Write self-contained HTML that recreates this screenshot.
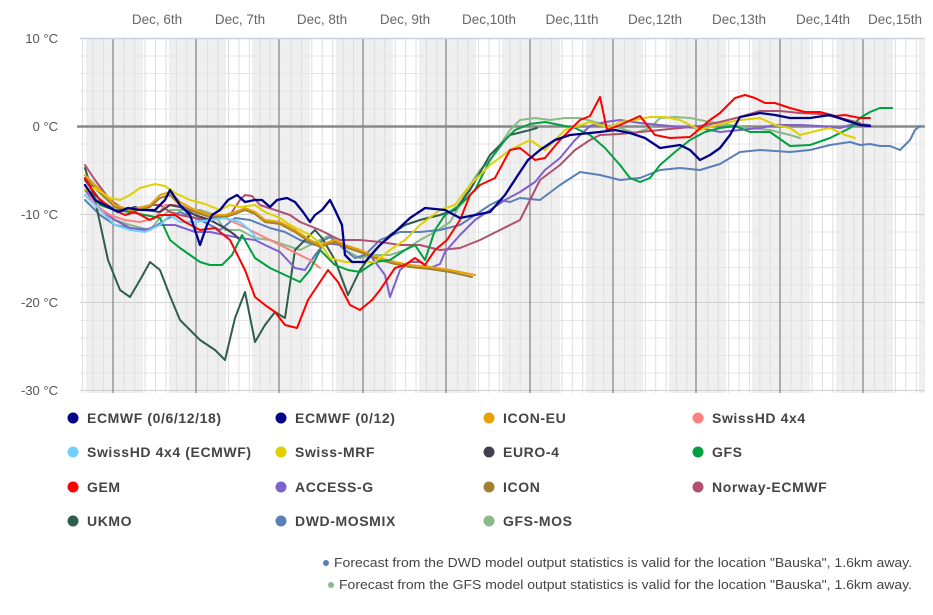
<!DOCTYPE html>
<html><head><meta charset="utf-8"><style>
body{margin:0;background:#fff;font-family:"Liberation Sans","DejaVu Sans",sans-serif;}
svg text{font-family:"Liberation Sans","DejaVu Sans",sans-serif;}
</style></head><body>
<svg width="933" height="610" viewBox="0 0 933 610" xmlns="http://www.w3.org/2000/svg">
<rect x="80" y="38" width="845" height="355" fill="#efefef"/>
<g fill="#fff">
<rect x="60" y="38" width="26" height="355"/>
<rect x="143" y="38" width="26" height="355"/>
<rect x="226" y="38" width="26" height="355"/>
<rect x="310" y="38" width="26" height="355"/>
<rect x="393" y="38" width="26" height="355"/>
<rect x="476" y="38" width="26" height="355"/>
<rect x="560" y="38" width="26" height="355"/>
<rect x="643" y="38" width="26" height="355"/>
<rect x="726" y="38" width="26" height="355"/>
<rect x="810" y="38" width="26" height="355"/>
<rect x="893" y="38" width="26" height="355"/>
</g>
<rect x="0" y="38" width="80" height="360" fill="#fff"/>
<g stroke="#e6e6e6" stroke-width="1">
<line x1="80" x2="925" y1="56" y2="56"/><line x1="80" x2="925" y1="73.5" y2="73.5"/><line x1="80" x2="925" y1="91" y2="91"/><line x1="80" x2="925" y1="109" y2="109"/>
<line x1="80" x2="925" y1="144" y2="144"/><line x1="80" x2="925" y1="162" y2="162"/><line x1="80" x2="925" y1="179.5" y2="179.5"/><line x1="80" x2="925" y1="197" y2="197"/>
<line x1="80" x2="925" y1="232" y2="232"/><line x1="80" x2="925" y1="250" y2="250"/><line x1="80" x2="925" y1="267.5" y2="267.5"/><line x1="80" x2="925" y1="285" y2="285"/>
<line x1="80" x2="925" y1="320.5" y2="320.5"/><line x1="80" x2="925" y1="338" y2="338"/><line x1="80" x2="925" y1="355.5" y2="355.5"/><line x1="80" x2="925" y1="373" y2="373"/>
</g>
<g stroke="#cfcfcf" stroke-width="1">
<line x1="80" x2="925" y1="214.5" y2="214.5"/><line x1="80" x2="925" y1="302.5" y2="302.5"/><line x1="80" x2="925" y1="390.5" y2="390.5"/>
</g>
<g stroke="#dedede" stroke-width="1" id="vg"></g>
<g stroke="#888" stroke-width="1.3">
<line x1="113" x2="113" y1="38" y2="393"/><line x1="196" x2="196" y1="38" y2="393"/><line x1="279" x2="279" y1="38" y2="393"/><line x1="363" x2="363" y1="38" y2="393"/><line x1="446" x2="446" y1="38" y2="393"/><line x1="530" x2="530" y1="38" y2="393"/><line x1="613" x2="613" y1="38" y2="393"/><line x1="696" x2="696" y1="38" y2="393"/><line x1="780" x2="780" y1="38" y2="393"/><line x1="863" x2="863" y1="38" y2="393"/>
</g>
<line x1="80" x2="925" y1="38.5" y2="38.5" stroke="#ccd0e0" stroke-width="1.5"/>
<line x1="77" x2="925" y1="126.5" y2="126.5" stroke="#888" stroke-width="2.5"/>
<g font-size="13" fill="#555" text-anchor="end">
<text x="58" y="43">10 °C</text><text x="58" y="131">0 °C</text><text x="58" y="219">-10 °C</text><text x="58" y="307">-20 °C</text><text x="58" y="395">-30 °C</text>
</g>
<g font-size="13.5" fill="#666" text-anchor="middle">
<text x="157" y="24">Dec, 6th</text><text x="240" y="24">Dec, 7th</text><text x="322" y="24">Dec, 8th</text><text x="405" y="24">Dec, 9th</text><text x="489" y="24">Dec,10th</text><text x="572" y="24">Dec,11th</text><text x="655" y="24">Dec,12th</text><text x="739" y="24">Dec,13th</text><text x="823" y="24">Dec,14th</text><text x="895" y="24">Dec,15th</text>
</g>
<g fill="none" stroke-width="2" stroke-linejoin="round" stroke-linecap="round">
<polyline stroke="#88bb88" points="85,195 100,210 115,220 130,225 150,230 160,218 170,210 185,210 200,210 215,215 225,230 240,230 255,238 270,240 285,245 300,250 310,245 320,240 330,235 345,250 360,258 375,255 390,255 405,250 420,240 435,232 450,222 460,205 470,185 480,170 490,160 500,145 510,130 520,120 535,118 550,120 565,118 580,118 595,122 605,125 620,128 635,133 650,128 660,118 675,117 690,118 710,122 730,125 750,128 770,130 790,135 800,138"/>
<polyline stroke="#5b7fb8" points="85,200 100,215 115,225 130,228 150,230 165,220 180,212 200,220 220,230 235,218 250,220 270,228 285,232 300,240 315,245 330,237 345,250 355,258 365,255 380,240 400,232 420,232 440,230 460,225 475,215 490,205 500,200 510,202 520,198 540,200 560,185 580,172 600,175 620,180 640,178 660,170 680,168 700,170 720,164 740,152 760,150 790,152 810,150 830,145 850,142 860,145 870,144 880,146 890,146 900,150 910,140 915,130 920,126"/>
<polyline stroke="#2f5f4a" points="85,168 95,200 108,260 120,290 130,297 140,280 150,262 160,270 170,296 180,320 190,330 200,340 215,350 225,360 235,318 245,292 255,342 265,325 275,312 285,318 295,250 305,240 315,230 322,238 335,260 348,295 360,270 375,250 390,235 405,225 420,220 440,215 455,210 470,190 490,155 510,135 530,130 537,128"/>
<polyline stroke="#b05070" points="85,165 95,180 110,200 125,210 140,210 150,205 160,205 170,212 180,215 195,218 210,220 220,215 230,215 240,200 245,195 252,196 260,205 275,210 290,215 300,222 320,230 340,240 360,240 380,242 400,245 420,245 440,250 460,248 480,240 500,230 520,220 530,200 540,180 560,165 575,150 590,140 600,135 620,134 640,132 660,130 680,128 700,126 720,122 740,117 760,111 780,111 800,113 820,114 840,118 860,123"/>
<polyline stroke="#8060d0" points="85,190 100,210 115,220 130,228 145,230 160,225 175,225 195,232 210,232 225,235 240,238 255,240 265,245 280,252 295,268 305,270 315,255 325,243 340,245 355,250 370,255 385,275 390,297 400,270 410,262 420,262 430,268 440,264 445,252 460,235 475,220 490,210 505,200 520,192 535,182 545,170 560,158 575,140 590,126 605,122 620,120 640,123 660,125 680,127 700,128 720,132 740,130 760,128 775,125 800,125 820,126 840,128 850,125 860,124 870,125"/>
<polyline stroke="#ff8080" points="85,185 95,205 110,215 125,220 140,222 155,218 165,205 175,205 195,212 210,215 225,218 240,225 250,230 260,235 270,240 280,245 290,250 300,255 310,260 320,268"/>
<polyline stroke="#404050" points="85,180 100,200 115,210 125,210 135,207 145,210 160,212 170,205 180,207 195,215 210,220 225,228 235,235 240,240"/>
<polyline stroke="#a08030" points="85,178 100,193 115,207 130,212 150,207 160,198 170,195 180,205 195,212 210,217 225,217 235,214 245,210 255,214 265,222 280,224 295,232 310,242 320,247 335,242 345,247 360,252 380,260 395,264 410,267 430,269 450,272 472,277"/>
<polyline stroke="#e8a000" points="85,175 100,190 115,205 130,210 150,205 160,195 170,192 180,202 195,210 210,215 225,215 235,212 245,208 255,212 265,220 280,222 295,230 310,240 320,245 335,240 345,245 360,250 380,258 395,262 410,265 430,267 450,270 475,275"/>
<polyline stroke="#00a040" points="85,185 100,205 115,210 130,212 145,215 160,218 170,240 180,248 190,255 200,262 210,265 222,265 232,255 242,235 255,258 270,268 285,275 300,282 310,270 320,250 335,265 348,270 360,272 375,262 390,260 405,250 415,245 425,260 435,230 445,215 460,205 475,190 490,160 505,140 515,130 530,124 545,122 560,125 575,128 590,135 605,148 620,165 630,178 640,182 650,178 660,165 675,152 690,140 705,132 720,128 735,126 750,132 770,132 790,146 810,145 830,138 850,128 860,118 870,112 880,108 892,108"/>
<polyline stroke="#70d0ff" points="85,195 100,210 115,225 130,230 145,232 160,225 170,215 180,222 195,222 210,220 225,218 240,222 250,230 258,240"/>
<polyline stroke="#e0d000" points="85,190 95,188 110,198 120,200 130,195 140,188 155,184 165,186 175,193 190,200 205,204 220,210 230,205 240,207 255,205 265,212 280,218 290,225 310,235 320,243 330,258 345,262 360,262 375,262 390,250 405,240 420,225 440,210 455,205 470,185 490,165 510,150 530,140 545,150 565,130 590,122 600,125 610,128 620,122 635,120 650,117 665,117 680,120 700,130 720,124 740,120 760,118 775,125 790,128 800,135 820,130 830,128 845,135 855,138"/>
<polyline stroke="#ff0000" points="85,178 95,195 110,208 125,215 135,212 150,220 160,215 175,215 185,222 200,230 215,228 230,240 245,270 255,297 265,305 275,312 285,325 297,328 308,300 320,282 328,270 338,282 350,305 360,310 372,300 380,290 395,268 405,265 415,258 425,265 435,250 447,240 460,220 470,195 480,185 495,178 510,150 520,148 535,160 545,158 560,140 580,120 590,116 600,97 607,130 620,125 640,116 655,135 670,138 690,137 710,120 720,113 735,98 745,95 755,98 765,103 775,103 790,108 805,112 820,112 835,116 845,115 860,118 870,118"/>
<polyline stroke="#00008b" stroke-width="2.3" points="85,185 95,200 110,208 118,212 128,208 140,210 155,210 165,200 170,190 180,205 190,215 195,230 200,245 207,225 212,215 220,210 228,200 237,195 245,202 255,200 262,200 270,207 277,200 287,198 295,202 303,212 310,222 315,215 322,210 330,200 335,210 342,225 345,255 352,262 365,262 380,245 395,232 410,218 425,208 445,210 460,218 475,215 490,212 505,195 518,175 528,160 540,150 555,140 570,135 600,132 615,130 630,133 645,138 660,148 680,145 690,150 700,160 710,155 720,148 730,135 740,117 760,113 775,115 790,118 810,118 830,115 845,120 860,125 870,126"/>
</g>
<g font-size="14" fill="#444" font-weight="bold" letter-spacing="0.6">
<circle cx="73" cy="418" r="5.5" fill="#00008b"/><text x="87" y="423">ECMWF (0/6/12/18)</text>
<circle cx="281" cy="418" r="5.5" fill="#00008b"/><text x="295" y="423">ECMWF (0/12)</text>
<circle cx="489" cy="418" r="5.5" fill="#e8a000"/><text x="503" y="423">ICON-EU</text>
<circle cx="698" cy="418" r="5.5" fill="#ff8080"/><text x="712" y="423">SwissHD 4x4</text>
<circle cx="73" cy="452" r="5.5" fill="#70d0ff"/><text x="87" y="457">SwissHD 4x4 (ECMWF)</text>
<circle cx="281" cy="452" r="5.5" fill="#e0d000"/><text x="295" y="457">Swiss-MRF</text>
<circle cx="489" cy="452" r="5.5" fill="#404050"/><text x="503" y="457">EURO-4</text>
<circle cx="698" cy="452" r="5.5" fill="#00a040"/><text x="712" y="457">GFS</text>
<circle cx="73" cy="487" r="5.5" fill="#ff0000"/><text x="87" y="492">GEM</text>
<circle cx="281" cy="487" r="5.5" fill="#8060d0"/><text x="295" y="492">ACCESS-G</text>
<circle cx="489" cy="487" r="5.5" fill="#a08030"/><text x="503" y="492">ICON</text>
<circle cx="698" cy="487" r="5.5" fill="#b05070"/><text x="712" y="492">Norway-ECMWF</text>
<circle cx="73" cy="521" r="5.5" fill="#2f5f4a"/><text x="87" y="526">UKMO</text>
<circle cx="281" cy="521" r="5.5" fill="#5b7fb8"/><text x="295" y="526">DWD-MOSMIX</text>
<circle cx="489" cy="521" r="5.5" fill="#88bb88"/><text x="503" y="526">GFS-MOS</text>
</g>
<g font-size="13" fill="#444">
<circle cx="326" cy="563" r="3" fill="#5b7fb8"/><text x="334" y="567" textLength="578" lengthAdjust="spacingAndGlyphs">Forecast from the DWD model output statistics is valid for the location "Bauska", 1.6km away.</text>
<circle cx="331" cy="585" r="3" fill="#88bb88"/><text x="339" y="589" textLength="573" lengthAdjust="spacingAndGlyphs">Forecast from the GFS model output statistics is valid for the location "Bauska", 1.6km away.</text>
</g>
<script>
var g=document.getElementById('vg');for(var x=82.6;x<925;x+=10.42){if(Math.abs(((x-113)%83.33+83.33)%83.33)<2)continue;var l=document.createElementNS('http://www.w3.org/2000/svg','line');l.setAttribute('x1',x);l.setAttribute('x2',x);l.setAttribute('y1',38);l.setAttribute('y2',393);g.appendChild(l);}
</script>
</svg>
</body></html>
